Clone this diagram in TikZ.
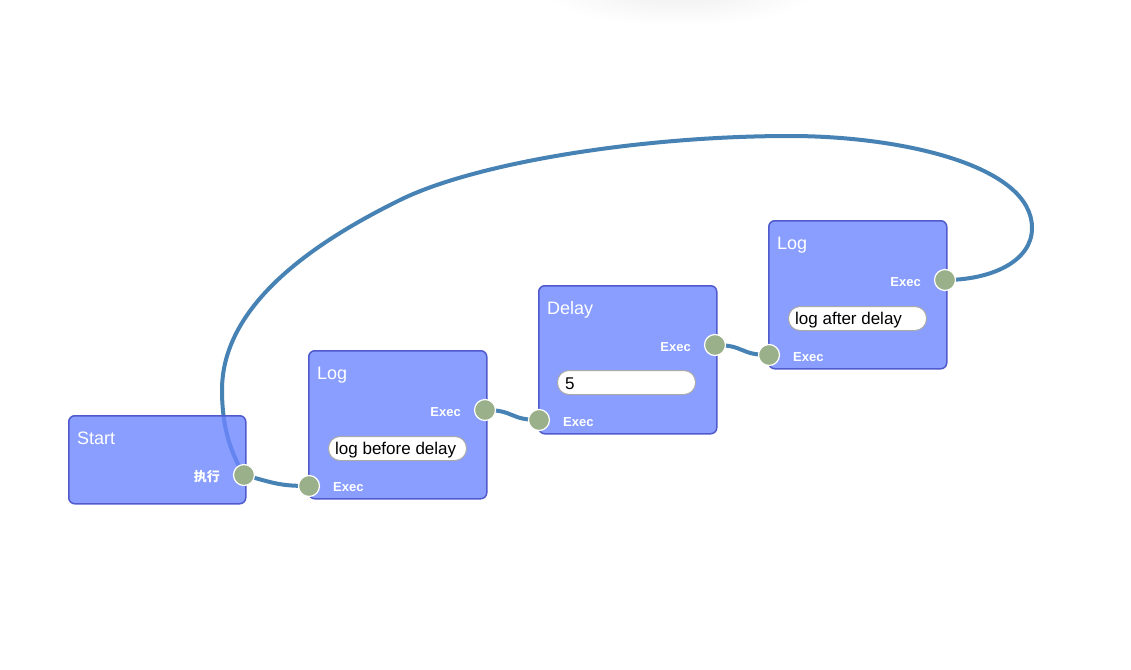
\documentclass[tikz,border=0pt]{standalone}
\usepackage{fontspec}
\setmainfont{Liberation Sans}
\newfontfamily\cjkfont{Noto Sans CJK SC}
\definecolor{nodefill}{RGB}{108,134,255}
\definecolor{nodeborder}{RGB}{80,90,205}
\definecolor{portfill}{RGB}{154,176,138}
\definecolor{linkcol}{RGB}{70,130,180}
\definecolor{fieldborder}{RGB}{170,170,170}
\tikzset{
  box/.style={draw=nodeborder, line width=1.5pt, fill=nodefill, fill opacity=0.8, draw opacity=1,
    rounded corners=6pt, anchor=north west, minimum width=178, minimum height=148, inner sep=0pt},
  title/.style={text=white, font=\fontsize{18}{20}\selectfont, anchor=base west, inner sep=0pt},
  portlbl/.style={text=white, font=\fontsize{13}{15}\selectfont\bfseries, inner sep=0pt},
  port/.style={circle, fill=portfill, draw=white, line width=1.2pt, minimum size=21pt, inner sep=0pt},
  field/.style={draw=fieldborder, line width=1pt, fill=white, rounded corners=11.5pt,
    minimum width=138, minimum height=24, inner sep=0pt, anchor=north west},
  fieldtext/.style={text=black, font=\fontsize{17}{19}\selectfont, anchor=base west, inner sep=0pt},
  link/.style={draw=linkcol, line width=4pt, line cap=round}
}
\begin{document}
\begin{tikzpicture}[x=1pt,y=-1pt]
\useasboundingbox (0,0) rectangle (1131,669);
\fill[white] (0,0) rectangle (1131,669);
% faint shadow at top
\begin{scope}
\clip (0,0) rectangle (1131,669);
\foreach \i in {0,...,11} \fill[black, opacity=0.0055] (680,-8) ellipse ({45+\i*8} and {9+\i*2.2});
\end{scope}

% port positions (used by the links)
\coordinate (cStartOut) at (244,475);
\coordinate (cLogAIn) at (309,486);
\coordinate (cLogAOut) at (485,410);
\coordinate (cDelayIn) at (539,420);
\coordinate (cDelayOut) at (715,345);
\coordinate (cLogBIn) at (769,355);
\coordinate (cLogBOut) at (945,280);

% links
\draw[link] (cStartOut) .. controls +(30,8) and +(-30,0) .. (cLogAIn);
\draw[link] (cLogAOut) .. controls +(30,0) and +(-30,0) .. (cDelayIn);
\draw[link] (cDelayOut) .. controls +(30,0) and +(-30,0) .. (cLogBIn);
\draw[link] (cLogBOut) .. controls (990,280) and (1032,262) .. (1032,228)
  .. controls (1032,165) and (900,136) .. (790,136)
  .. controls (640,136) and (475,163) .. (400,200)
  .. controls (325,237) and (222,300) .. (222,390)
  .. controls (222,430) and (232,455) .. (cStartOut);

% Start node
\node[box, minimum width=177, minimum height=88] (start) at (68,415) {};
\node[title] (startT) at (77,444) {Start};
\node[portlbl, anchor=east] (startOutL) at (220,477) {\cjkfont 执行};
\node[port] (startOut) at (cStartOut) {};

% Log node A
\node[box] (logA) at (308,350) {};
\node[title] (logAT) at (317,379) {Log};
\node[portlbl, anchor=base east] (logAOutL) at (461,416) {Exec};
\node[port] (logAOut) at (cLogAOut) {};
\node[field] (logAF) at (328,436) {};
\node[fieldtext] (logAFT) at (335,454) {log before delay};
\node[portlbl, anchor=base west] (logAInL) at (333,491) {Exec};
\node[port] (logAIn) at (cLogAIn) {};

% Delay node
\node[box] (delay) at (538,285) {};
\node[title] (delayT) at (547,314) {Delay};
\node[portlbl, anchor=base east] (delayOutL) at (691,351) {Exec};
\node[port] (delayOut) at (cDelayOut) {};
\node[field] (delayF) at (557,370) {};
\node[fieldtext] (delayFT) at (565,389) {5};
\node[portlbl, anchor=base west] (delayInL) at (563,426) {Exec};
\node[port] (delayIn) at (cDelayIn) {};

% Log node B
\node[box] (logB) at (768,220) {};
\node[title] (logBT) at (777,249) {Log};
\node[portlbl, anchor=base east] (logBOutL) at (921,286) {Exec};
\node[port] (logBOut) at (cLogBOut) {};
\node[field] (logBF) at (788,306) {};
\node[fieldtext] (logBFT) at (795,324) {log after delay};
\node[portlbl, anchor=base west] (logBInL) at (793,361) {Exec};
\node[port] (logBIn) at (cLogBIn) {};
\end{tikzpicture}
\end{document}
